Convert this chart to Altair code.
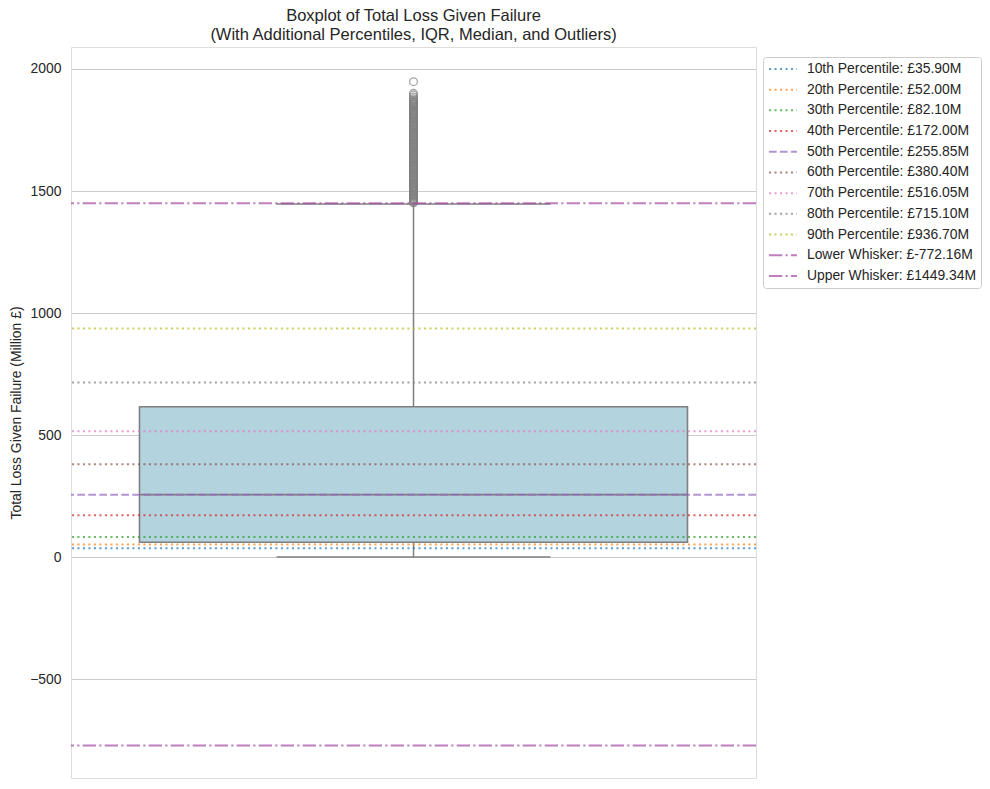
import altair as alt
import pandas as pd

# ---- data ----
line_labels = [
    "10th Percentile: £35.90M",
    "20th Percentile: £52.00M",
    "30th Percentile: £82.10M",
    "40th Percentile: £172.00M",
    "50th Percentile: £255.85M",
    "60th Percentile: £380.40M",
    "70th Percentile: £516.05M",
    "80th Percentile: £715.10M",
    "90th Percentile: £936.70M",
    "Lower Whisker: £-772.16M",
    "Upper Whisker: £1449.34M",
]
line_values = [35.90, 52.00, 82.10, 172.00, 255.85, 380.40, 516.05, 715.10, 936.70, -772.16, 1449.34]

# box statistics (million £)
q1 = 60.9
median = 255.85
q3 = 616.3
whisker_low = 0.0
whisker_high = 1447.0

# outliers (million £)
outliers = [1948, 1900, 1893, 1885, 1878, 1873,
            1868, 1864, 1861, 1857, 1853, 1849, 1846, 1842, 1838, 1834, 1830, 1827,
            1823, 1819, 1815, 1812, 1808, 1804, 1800, 1797, 1793, 1789, 1785, 1782,
            1778, 1774, 1770, 1767, 1763, 1759, 1755, 1752, 1748, 1744, 1740, 1737,
            1733, 1729, 1725, 1722, 1718, 1714, 1710, 1707, 1703, 1699, 1695, 1692,
            1688, 1684, 1680, 1677, 1673, 1669, 1665, 1662, 1658, 1654, 1650, 1647,
            1643, 1639, 1635, 1632, 1628, 1624, 1620, 1617, 1613, 1609, 1605, 1602,
            1598, 1594, 1590, 1587, 1583, 1579, 1575, 1572, 1568, 1564, 1560, 1557,
            1553, 1549, 1545, 1542, 1538, 1534, 1530, 1527, 1523, 1519, 1515, 1512,
            1508, 1504, 1500, 1497, 1493, 1489, 1485, 1482, 1478, 1474, 1470, 1467,
            1463, 1459, 1455, 1452]

# ---- styles ----
line_colors = ["#1f77b4", "#ff7f0e", "#2ca02c", "#d62728", "#9467bd", "#8c564b",
               "#e377c2", "#7f7f7f", "#bcbd22", "#a448a4", "#a448a4"]
DOT = [2.1, 3.4]
DASH = [7.7, 3.3]
DASHDOT = [13.3, 3.3, 2.1, 3.3]
line_dashes = [DOT, DOT, DOT, DOT, DASH, DOT, DOT, DOT, DOT, DASHDOT, DASHDOT]

FONT = "Liberation Sans"
TEXT = "#262626"
GREY = "#7f7f7f"
BOX_FILL = "#b3d4df"
BOX_HALF = 0.4
CAP_HALF = 0.2

xscale = alt.Scale(domain=[-0.5, 0.5], nice=False, zero=False)
yscale = alt.Scale(domain=[-905, 2090], nice=False, zero=False)

box_df = pd.DataFrame({
    "x0": [-BOX_HALF], "x1": [BOX_HALF], "xc": [0.0],
    "c0": [-CAP_HALF], "c1": [CAP_HALF],
    "q1": [q1], "median": [median], "q3": [q3],
    "wlo": [whisker_low], "whi": [whisker_high],
})
out_df = pd.DataFrame({"x": [0.0] * len(outliers), "v": outliers})
lines_df = pd.DataFrame({"label": line_labels, "value": line_values})

yaxis = alt.Axis(
    title="Total Loss Given Failure (Million £)",
    values=[-500, 0, 500, 1000, 1500, 2000], format="d",
    grid=True, gridColor="#cccccc", gridWidth=1,
    domain=False, ticks=False, labelPadding=10,
    labelFont=FONT, labelFontSize=13.9, labelColor=TEXT,
    titleFont=FONT, titleFontSize=13.9, titleFontWeight="normal", titleColor=TEXT,
    titlePadding=6,
)

base = alt.Chart(box_df)

whisk_low = base.mark_rule(color=GREY, strokeWidth=1.5).encode(
    x=alt.X("xc:Q", scale=xscale, axis=None),
    y=alt.Y("wlo:Q", scale=yscale, axis=yaxis),
    y2="q1:Q",
)
whisk_high = base.mark_rule(color=GREY, strokeWidth=1.5).encode(
    x=alt.X("xc:Q", scale=xscale, axis=None),
    y=alt.Y("q3:Q", scale=yscale),
    y2="whi:Q",
)
cap_low = base.mark_rule(color=GREY, strokeWidth=1.5).encode(
    x=alt.X("c0:Q", scale=xscale, axis=None), x2="c1:Q",
    y=alt.Y("wlo:Q", scale=yscale),
)
cap_high = base.mark_rule(color=GREY, strokeWidth=1.5).encode(
    x=alt.X("c0:Q", scale=xscale, axis=None), x2="c1:Q",
    y=alt.Y("whi:Q", scale=yscale),
)
box = base.mark_rect(fill=BOX_FILL, stroke=GREY, strokeWidth=1.6).encode(
    x=alt.X("x0:Q", scale=xscale, axis=None), x2="x1:Q",
    y=alt.Y("q1:Q", scale=yscale), y2="q3:Q",
)
med = base.mark_rule(color=GREY, strokeWidth=1.6).encode(
    x=alt.X("x0:Q", scale=xscale, axis=None), x2="x1:Q",
    y=alt.Y("median:Q", scale=yscale),
)
fliers = alt.Chart(out_df).mark_point(
    shape="circle", filled=False, stroke=GREY, strokeWidth=1.3, size=60
).encode(
    x=alt.X("x:Q", scale=xscale, axis=None),
    y=alt.Y("v:Q", scale=yscale),
)

legend = alt.Legend(
    title=None, orient="none", legendX=692, legendY=10,
    padding=5, strokeColor="#cccccc", fillColor="white", cornerRadius=3,
    labelFont=FONT, labelFontSize=13.9, labelColor=TEXT, labelLimit=0,
    symbolType="M-1.2,0H4.4", symbolSize=100, symbolStrokeWidth=2,
    rowPadding=5.7, labelOffset=25,
)

lines = alt.Chart(lines_df).mark_rule(strokeWidth=2, opacity=0.7).encode(
    y=alt.Y("value:Q", scale=yscale),
    color=alt.Color("label:N", scale=alt.Scale(domain=line_labels, range=line_colors),
                    legend=legend, sort=line_labels),
    strokeDash=alt.StrokeDash("label:N", scale=alt.Scale(domain=line_labels, range=line_dashes),
                              legend=legend, sort=line_labels),
)

chart = alt.layer(
    whisk_low, whisk_high, cap_low, cap_high, box, med, fliers, lines
).properties(
    width=685, height=731,
    title=alt.Title(
        ["Boxplot of Total Loss Given Failure",
         "(With Additional Percentiles, IQR, Median, and Outliers)"],
        font=FONT, fontSize=16.5, fontWeight="normal", color=TEXT,
        anchor="middle", frame="group", lineHeight=19, offset=4,
    ),
    padding={"left": 9, "top": 7, "right": 5, "bottom": 5},
).configure_view(
    stroke="#cccccc", strokeWidth=1.1,
).configure(background="white")

chart.save("out.html", embed_options={"renderer": "svg", "actions": False})
